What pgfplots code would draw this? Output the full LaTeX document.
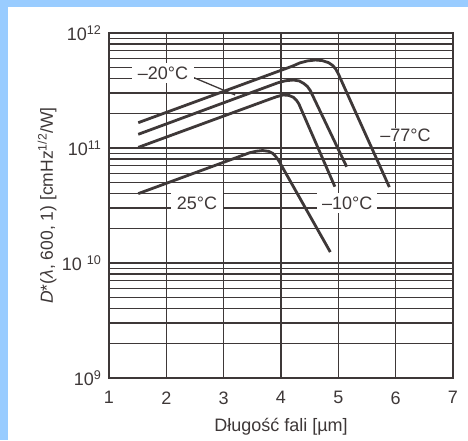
\documentclass[border=0pt]{standalone}
\usepackage{fontspec}
\setmainfont{Liberation Sans}
\usepackage{pgfplots}
\pgfplotsset{compat=1.18}

\definecolor{bgblue}{RGB}{153,204,255}
\definecolor{ink}{RGB}{62,56,56}

\begin{document}
\begin{tikzpicture}[x=1pt,y=1pt]
% light blue frame of the scanned figure
\fill[bgblue] (0,0) rectangle (468,440);
\fill[white] (8,0) rectangle (468,433);
\begin{axis}[
    at={(109pt,62pt)}, anchor=south west,
    width=344pt, height=345pt, scale only axis,
    xmin=1, xmax=7,
    ymode=log, ymin=1e9, ymax=1e12,
    xtick={1,2,3,4,5,6,7},
    ytick={1e9,1e10,1e11,1e12},
    yticklabels={10\textsuperscript{9}, 10\hspace{5pt}\textsuperscript{10}, 10\textsuperscript{11}, 10\textsuperscript{12}},
    grid=both,
    major grid style={ink, line width=1.3pt},
    minor grid style={ink, line width=1.3pt},
    axis line style={ink, line width=1.3pt},
    major tick length=0pt, minor tick length=0pt,
    /pgf/number format/assume math mode=true,
    ticklabel style={font=\fontsize{18}{21}\selectfont, text=ink},
    yticklabel style={xshift=-4pt},
    xticklabel style={yshift=-10pt},
    xlabel={Długość fali [µm]},
    ylabel={\textit{D}*(\textit{λ}, 600, 1) [cmHz\textsuperscript{1/2}/W]},
    every axis x label/.style={at={(axis description cs:0.5,-0.14)}, anchor=center, font=\fontsize{18}{21}\selectfont, text=ink},
    every axis y label/.style={at={(axis description cs:-0.18,0.5)}, rotate=90, anchor=center, font=\fontsize{17.5}{21}\selectfont, text=ink},
    clip=false,
]
% -77 C
\addplot[ink, line width=2.8pt, line join=round, line cap=butt] coordinates {
    (1.51,1.660e11) (4.20,5.15e11) (4.33,5.495e11) (4.46,5.715e11)
    (4.60,5.821e11) (4.72,5.754e11) (4.83,5.521e11) (4.90,5.224e11)
    (4.95,4.898e11) (5.00,4.416e11) (5.04,3.981e11) (5.89,4.571e10)
};
% -20 C
\addplot[ink, line width=2.8pt, line join=round, line cap=butt] coordinates {
    (1.51,1.315e11) (3.95,3.698e11) (4.08,3.846e11) (4.215,3.899e11)
    (4.32,3.828e11) (4.40,3.631e11) (4.46,3.428e11) (4.51,3.162e11)
    (5.145,6.87e10)
};
% -10 C
\addplot[ink, line width=2.8pt, line join=round, line cap=butt] coordinates {
    (1.51,1.012e11) (3.80,2.655e11) (3.93,2.799e11) (4.04,2.891e11)
    (4.14,2.864e11) (4.22,2.754e11) (4.27,2.600e11) (4.31,2.427e11)
    (4.94,4.61e10)
};
% 25 C
\addplot[ink, line width=2.8pt, line join=round, line cap=butt] coordinates {
    (1.51,4.01e10) (3.45,9.08e10) (3.57,9.376e10) (3.68,9.506e10)
    (3.79,9.333e10) (3.86,8.954e10) (3.91,8.414e10) (3.96,7.762e10)
    (4.86,1.245e10)
};
% leader line of the -20 C label
\draw[ink, line width=1.3pt] (axis cs:2.40,4.25e11) -- (axis cs:3.20,2.891e11);
\node[fill=white, inner xsep=6pt, inner ysep=4pt, text=ink, font=\fontsize{18}{21}\selectfont] at (axis cs:1.94,4.487e11) {–20°C};
\node[fill=white, inner xsep=6pt, inner ysep=4pt, text=ink, font=\fontsize{18}{21}\selectfont] at (axis cs:2.535,3.327e10) {25°C};
\node[fill=white, inner xsep=5pt, inner ysep=4pt, text=ink, font=\fontsize{18}{21}\selectfont] at (axis cs:5.155,3.327e10) {–10°C};
\node[fill=white, inner xsep=3pt, inner ysep=1pt, text=ink, font=\fontsize{18}{21}\selectfont] at (axis cs:6.17,1.297e11) {–77°C};
\end{axis}
\end{tikzpicture}
\end{document}
